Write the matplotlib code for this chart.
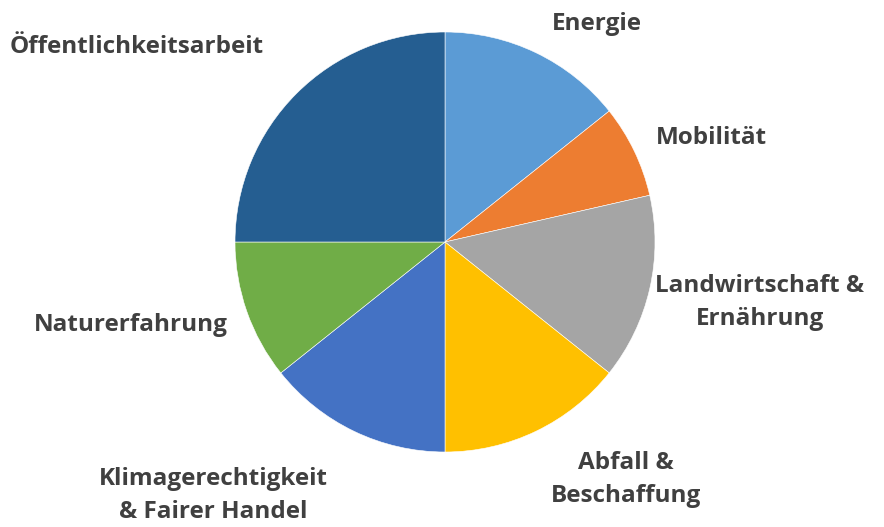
import numpy as np
import matplotlib
matplotlib.use('Agg')
import matplotlib.pyplot as plt

# Themenbereiche und Anteile (Anzahl)
labels = ['Energie', 'Mobilität', 'Landwirtschaft &\nErnährung', 'Abfall &\nBeschaffung',
          'Klimagerechtigkeit\n& Fairer Handel', 'Naturerfahrung', 'Öffentlichkeitsarbeit']
values = [4, 2, 4, 4, 4, 3, 7]
colors = ['#5B9BD5', '#ED7D31', '#A5A5A5', '#FFC000', '#4472C4', '#70AD47', '#255E91']

# Label-Positionen (in Radius-Einheiten, relativ zum Mittelpunkt)
label_pos = [(0.724, 1.04), (1.267, 0.495), (1.5, -0.286), (0.862, -1.133),
             (-1.105, -1.205), (-1.495, -0.395), (-1.467, 0.929)]

plt.rcParams['font.family'] = ['Open Sans', 'DejaVu Sans']

fig = plt.figure(figsize=(8.84, 5.27), dpi=100)
ax = fig.add_axes([(445 - 210) / 884, (285 - 210) / 527, 420 / 884, 420 / 527])

ax.pie(values, colors=colors, startangle=90, counterclock=False, radius=1,
       wedgeprops={'edgecolor': 'white', 'linewidth': 0.4})
ax.set_xlim(-1, 1)
ax.set_ylim(-1, 1)
ax.set_aspect('equal')

for lab, (x, y) in zip(labels, label_pos):
    ax.text(x, y, lab, ha='center', va='center', fontsize=17.5, fontweight='bold',
            color='#404040', linespacing=1.5, clip_on=False)

plt.savefig('out.png', dpi=100)
